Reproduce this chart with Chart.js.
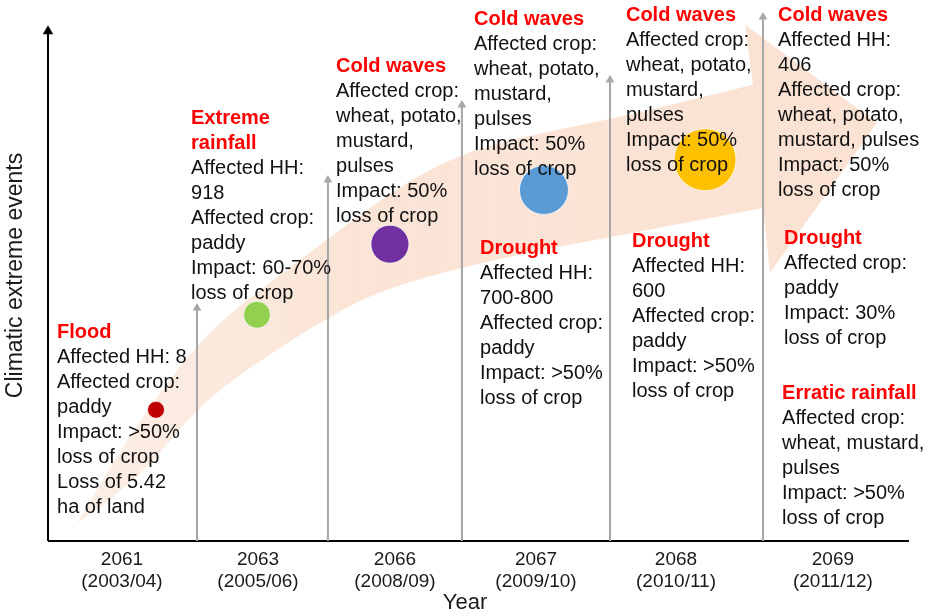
<!DOCTYPE html>
<html>
<head>
<meta charset="utf-8">
<script src="https://cdn.jsdelivr.net/npm/chart.js@4/dist/chart.umd.min.js"></script>
<style>
html, body { margin: 0; padding: 0; background: #fff; }
#wrap { width: 934px; height: 616px; }
</style>
</head>
<body>
<div id="wrap"><canvas id="myChart"></canvas></div>
<script>
// x is in "period" units (0..6), y is a 0..100 severity scale
const periodLabels = [
    ['2061', '(2003/04)'], ['2063', '(2005/06)'], ['2066', '(2008/09)'],
    ['2067', '(2009/10)'], ['2068', '(2010/11)'], ['2069', '(2011/12)']
];
const periodX = [0.532, 1.511, 2.496, 3.511, 4.518, 5.647];

const dividerX = [1.072, 2.014, 2.978, 4.043, 5.144];
const dividerTop = [43.9, 68.0, 82.1, 86.8, 98.7];

const bubbleX = [0.777, 1.504, 2.460, 3.568, 4.727];
const bubbleY = [24.7, 42.6, 55.9, 66.1, 71.8];
const bubbleR = [8.5, 13.5, 19, 24.5, 31];
const bubbleColors = ['#c00000', '#92d050', '#7030a0', '#5b9bd5', '#ffc000'];

const eventTitles = [
    ['Flood'], ['Extreme', 'rainfall'], ['Cold waves'], ['Cold waves'], ['Drought'],
    ['Cold waves'], ['Drought'], ['Cold waves'], ['Drought'], ['Erratic rainfall']
];
const eventLines = [
    ['Affected HH: 8', 'Affected crop:', 'paddy', 'Impact: >50%', 'loss of crop', 'Loss of 5.42', 'ha of land'],
    ['Affected HH:', '918', 'Affected crop:', 'paddy', 'Impact: 60-70%', 'loss of crop'],
    ['Affected crop:', 'wheat, potato,', 'mustard,', 'pulses', 'Impact: 50%', 'loss of crop'],
    ['Affected crop:', 'wheat, potato,', 'mustard,', 'pulses', 'Impact: 50%', 'loss of crop'],
    ['Affected HH:', '700-800', 'Affected crop:', 'paddy', 'Impact: >50%', 'loss of crop'],
    ['Affected crop:', 'wheat, potato,', 'mustard,', 'pulses', 'Impact: 50%', 'loss of crop'],
    ['Affected HH:', '600', 'Affected crop:', 'paddy', 'Impact: >50%', 'loss of crop'],
    ['Affected HH:', '406', 'Affected crop:', 'wheat, potato,', 'mustard, pulses', 'Impact: 50%', 'loss of crop'],
    ['Affected crop:', 'paddy', 'Impact: 30%', 'loss of crop'],
    ['Affected crop:', 'wheat, mustard,', 'pulses', 'Impact: >50%', 'loss of crop']
];
// where each text block starts (left edge, first title line)
const eventAnchors = [
    [0.065, 39.2], [1.029, 79.5], [2.072, 89.4], [3.065, 98.3], [3.108, 55.0],
    [4.158, 98.9], [4.201, 56.5], [5.252, 98.9], [5.295, 56.9], [5.281, 27.7]
];

// the big curved arrow behind everything
const bandUpper = [[0.209, 3.4], [0.518, 17.1], [0.842, 29.4], [1.165, 39.7], [1.525, 47.3], [1.813, 52.9],
    [2.173, 60.1], [2.604, 68.0], [3.036, 73.6], [3.540, 76.8], [4.115, 79.8], [5.072, 85.9]];
const bandHead = [[5.014, 97.2], [5.964, 78.7], [5.194, 50.5], [5.144, 62.7]];
const bandLower = [[5.144, 62.7], [4.065, 57.3], [3.252, 53.3], [2.424, 47.6], [2.007, 42.0], [1.453, 32.8],
    [1.072, 25.0], [0.734, 14.3], [0.446, 7.7], [0.209, 3.4]];

const xAxisTip = 6.194;
const yAxisTip = 96.0;

const FONT = '"Liberation Sans", Arial, sans-serif';

function smoothThrough(ctx, pts) {
    for (var i = 1; i < pts.length - 1; i++) {
        var mx = (pts[i][0] + pts[i + 1][0]) / 2;
        var my = (pts[i][1] + pts[i + 1][1]) / 2;
        ctx.quadraticCurveTo(pts[i][0], pts[i][1], mx, my);
    }
    ctx.lineTo(pts[pts.length - 1][0], pts[pts.length - 1][1]);
}

const timelineArt = {
    id: 'timelineArt',
    beforeDatasetsDraw(chart) {
        const ctx = chart.ctx;
        const xs = chart.scales.x, ys = chart.scales.y;
        const toPx = p => [xs.getPixelForValue(p[0]), ys.getPixelForValue(p[1])];
        const up = bandUpper.map(toPx), head = bandHead.map(toPx), low = bandLower.map(toPx);

        ctx.save();
        const grad = ctx.createLinearGradient(up[0][0], 0, head[1][0], 0);
        grad.addColorStop(0, 'rgba(251,228,214,0.6)');
        grad.addColorStop(0.35, 'rgba(251,227,212,0.95)');
        grad.addColorStop(1, 'rgb(251,226,211)');
        ctx.fillStyle = grad;
        ctx.beginPath();
        ctx.moveTo(up[0][0], up[0][1]);
        smoothThrough(ctx, up);
        head.forEach(p => ctx.lineTo(p[0], p[1]));
        smoothThrough(ctx, low);
        ctx.closePath();
        ctx.fill();
        ctx.restore();
    },
    afterDatasetsDraw(chart) {
        const ctx = chart.ctx;
        const xs = chart.scales.x, ys = chart.scales.y;
        const step = 25;
        ctx.save();
        ctx.textAlign = 'left';
        ctx.textBaseline = 'middle';
        for (var i = 0; i < eventTitles.length; i++) {
            var px = xs.getPixelForValue(eventAnchors[i][0]);
            var py = ys.getPixelForValue(eventAnchors[i][1]);
            ctx.font = 'bold 20px ' + FONT;
            ctx.fillStyle = '#ff0000';
            eventTitles[i].forEach(function (t) {
                ctx.fillText(t, px, py);
                py += step;
            });
            ctx.font = '20px ' + FONT;
            ctx.fillStyle = '#111';
            eventLines[i].forEach(function (t) {
                ctx.fillText(t, px, py);
                py += step;
            });
        }
        ctx.restore();
    }
};

const datasets = [];

datasets.push({
    type: 'bubble',
    data: bubbleX.map((v, i) => ({x: v, y: bubbleY[i], r: bubbleR[i]})),
    backgroundColor: bubbleColors,
    borderColor: 'rgba(255,255,255,0.75)',
    borderWidth: 1,
    clip: false
});

dividerX.forEach(function (v, i) {
    datasets.push({
        type: 'line',
        data: [{x: v, y: 0}, {x: v, y: dividerTop[i]}],
        borderColor: '#a6a6a6',
        borderWidth: 2,
        pointRadius: [0, 5],
        pointStyle: 'triangle',
        pointBackgroundColor: '#a6a6a6',
        pointBorderWidth: 0,
        clip: false
    });
});

datasets.push({
    type: 'line',
    data: [{x: 0, y: 0}, {x: 0, y: yAxisTip}],
    borderColor: '#000',
    borderWidth: 2,
    pointRadius: [0, 6],
    pointStyle: 'triangle',
    pointBackgroundColor: '#000',
    pointBorderWidth: 0,
    clip: false
});

datasets.push({
    type: 'line',
    data: [{x: 0, y: 0}, {x: xAxisTip, y: 0}],
    borderColor: '#000',
    borderWidth: 2,
    pointRadius: [0, 6],
    pointStyle: 'triangle',
    pointRotation: 90,
    pointBackgroundColor: '#000',
    pointBorderWidth: 0,
    clip: false
});

new Chart(document.getElementById('myChart'), {
    type: 'scatter',
    data: {datasets: datasets},
    plugins: [timelineArt],
    options: {
        responsive: true,
        maintainAspectRatio: false,
        animation: false,
        events: [],
        layout: {autoPadding: false, padding: {top: 10, right: 52, left: 0, bottom: 0}},
        plugins: {legend: {display: false}, tooltip: {enabled: false}},
        scales: {
            x: {
                type: 'linear',
                min: 0,
                max: 6,
                grid: {display: false, drawTicks: false},
                border: {display: false},
                afterBuildTicks: function (scale) {
                    scale.ticks = periodX.map(v => ({value: v}));
                },
                afterFit: function (scale) { scale.height = 75; },
                ticks: {
                    autoSkip: false,
                    maxRotation: 0,
                    padding: 7,
                    color: '#1a1a1a',
                    font: {family: FONT, size: 19},
                    callback: function (value, index) { return periodLabels[index]; }
                },
                title: {
                    display: true,
                    text: 'Year',
                    color: '#1a1a1a',
                    font: {family: FONT, size: 22},
                    padding: {top: 0, bottom: 0}
                }
            },
            y: {
                type: 'linear',
                min: 0,
                max: 100,
                grid: {display: false, drawTicks: false},
                border: {display: false},
                afterFit: function (scale) { scale.width = 48; },
                ticks: {display: false},
                title: {
                    display: true,
                    text: 'Climatic extreme events',
                    color: '#1a1a1a',
                    font: {family: FONT, size: 23},
                    padding: {top: 2, bottom: 0}
                }
            }
        }
    }
});
</script>
</body>
</html>
